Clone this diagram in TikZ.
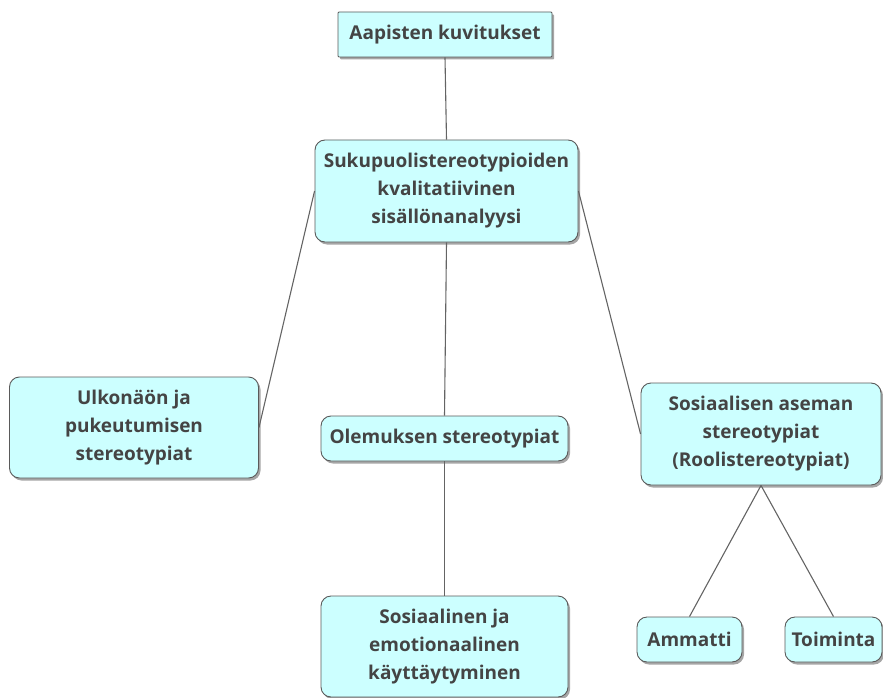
\documentclass[tikz,border=0pt]{standalone}
\usepackage{fontspec}
\setmainfont{Open Sans}
\usetikzlibrary{shadows}
\definecolor{boxfill}{RGB}{204,255,255}
\definecolor{boxline}{RGB}{90,90,90}
\definecolor{txt}{RGB}{68,68,68}
\definecolor{conn}{RGB}{100,100,100}
\tikzset{
  box/.style={draw=boxline, line width=0.9pt, fill=boxfill, rounded corners=10pt,
    drop shadow={shadow xshift=2pt, shadow yshift=-2.5pt, fill=black, opacity=0.35},
    text=txt, font=\fontsize{19}{28}\selectfont\bfseries, align=center,
    inner sep=0pt, anchor=center},
  conn/.style={draw=conn, line width=1.1pt}
}
\begin{document}
\begin{tikzpicture}[x=1pt,y=-1pt]
\useasboundingbox (0,0) rectangle (883,698);
\node[box, rounded corners=1pt, minimum width=214pt, minimum height=45pt] (top) at (445,34.5) {Aapisten kuvitukset};
\node[box, minimum width=263pt, minimum height=102pt] (suku) at (446.5,191) {Sukupuolistereotypioiden\\kvalitatiivinen\\sisällönanalyysi};
\node[box, minimum width=249pt, minimum height=101pt] (ulk) at (134,427.5) {Ulkonäön ja\\pukeutumisen\\stereotypiat};
\node[box, minimum width=247pt, minimum height=45pt] (olem) at (444.5,438.5) {Olemuksen stereotypiat};
\node[box, minimum width=240pt, minimum height=102pt] (sos) at (761,434) {Sosiaalisen aseman\\stereotypiat\\(Roolistereotypiat)};
\node[box, minimum width=247pt, minimum height=101pt] (sosem) at (444.5,646.5) {Sosiaalinen ja\\emotionaalinen\\käyttäytyminen};
\node[box, minimum width=105pt, minimum height=45pt] (amm) at (689.5,639.5) {Ammatti};
\node[box, minimum width=97pt, minimum height=45pt] (toi) at (833.5,639.5) {Toiminta};
\draw[conn] (top.south) -- (suku.north);
\draw[conn] (suku.west) -- (ulk.east);
\draw[conn] (suku.south) -- (olem.north);
\draw[conn] (suku.east) -- (sos.west);
\draw[conn] (olem.south) -- (sosem.north);
\draw[conn] (sos.south) -- (amm.north);
\draw[conn] (sos.south) -- (toi.north);
\end{tikzpicture}
\end{document}
